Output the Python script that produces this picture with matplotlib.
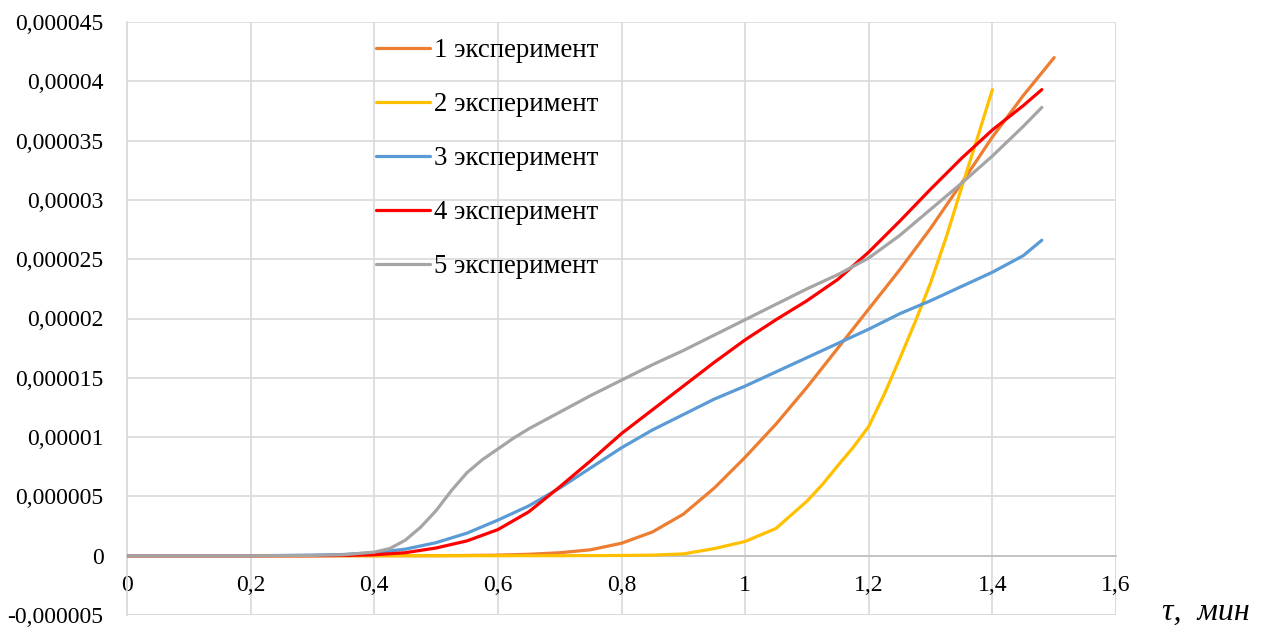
import matplotlib
matplotlib.use("Agg")
import matplotlib.pyplot as plt

plt.rcParams['font.family'] = ['Liberation Serif', 'DejaVu Serif']

# time, min  /  values in units of 1e-6
x1 = [0.0, 0.1, 0.2, 0.3, 0.4, 0.5, 0.55, 0.6, 0.65, 0.7, 0.75, 0.8, 0.85, 0.9, 0.95,
      1.0, 1.05, 1.1, 1.15, 1.2, 1.25, 1.3, 1.35, 1.4, 1.45, 1.5]
exp1 = [0, 0, 0, 0, 0, 0, 0.02, 0.05, 0.12, 0.25, 0.5, 1.05, 2.0, 3.5, 5.7,
        8.3, 11.1, 14.2, 17.5, 20.8, 24.1, 27.6, 31.4, 35.3, 38.8, 42.0]

x2 = [0.0, 0.1, 0.2, 0.3, 0.4, 0.5, 0.6, 0.7, 0.8, 0.85, 0.9, 0.95, 1.0, 1.05, 1.1,
      1.125, 1.15, 1.175, 1.2, 1.225, 1.25, 1.275, 1.3, 1.325, 1.35, 1.375, 1.4]
exp2 = [0, 0, 0, 0, 0, 0, 0, 0, 0.02, 0.05, 0.15, 0.6, 1.2, 2.3, 4.6,
        6.0, 7.6, 9.15, 10.9, 13.6, 16.6, 19.7, 23.0, 26.8, 31.0, 35.1, 39.3]

x3 = [0.0, 0.1, 0.2, 0.25, 0.3, 0.35, 0.4, 0.45, 0.5, 0.55, 0.6, 0.65, 0.7, 0.75, 0.8,
      0.85, 0.9, 0.95, 1.0, 1.05, 1.1, 1.15, 1.2, 1.25, 1.3, 1.35, 1.4, 1.45, 1.48]
exp3 = [0, 0, 0, 0.02, 0.05, 0.1, 0.25, 0.55, 1.1, 1.9, 3.0, 4.2, 5.7, 7.4, 9.1,
        10.6, 11.9, 13.2, 14.3, 15.5, 16.7, 17.9, 19.1, 20.4, 21.5, 22.7, 23.9, 25.3, 26.6]

x4 = [0.0, 0.1, 0.2, 0.3, 0.35, 0.4, 0.45, 0.5, 0.55, 0.6, 0.65, 0.7, 0.75, 0.8, 0.85,
      0.9, 0.95, 1.0, 1.05, 1.1, 1.15, 1.2, 1.25, 1.3, 1.35, 1.4, 1.45, 1.48]
exp4 = [0, 0, 0, 0, 0.02, 0.08, 0.25, 0.65, 1.25, 2.2, 3.7, 5.8, 8.0, 10.3, 12.3,
        14.3, 16.3, 18.2, 19.9, 21.5, 23.3, 25.6, 28.2, 30.9, 33.5, 35.9, 37.95, 39.3]

x5 = [0.0, 0.1, 0.2, 0.3, 0.35, 0.4, 0.425, 0.45, 0.475, 0.5, 0.525, 0.55, 0.575, 0.6,
      0.625, 0.65, 0.7, 0.75, 0.8, 0.85, 0.9, 0.95, 1.0, 1.05, 1.1, 1.15, 1.2, 1.25,
      1.3, 1.35, 1.4, 1.45, 1.48]
exp5 = [0, 0, 0, 0.02, 0.08, 0.3, 0.6, 1.3, 2.4, 3.8, 5.5, 7.0, 8.1, 9.0,
        9.9, 10.7, 12.1, 13.5, 14.8, 16.1, 17.3, 18.6, 19.9, 21.2, 22.5, 23.7, 25.1, 27.0,
        29.2, 31.4, 33.7, 36.2, 37.8]

labels = ["1 эксперимент", "2 эксперимент", "3 эксперимент", "4 эксперимент", "5 эксперимент"]
colors = ["#ED7D31", "#FFC000", "#5B9BD5", "#FF0000", "#A5A5A5"]

yticks = [-5, 0, 5, 10, 15, 20, 25, 30, 35, 40, 45]
ytick_labels = ["-0,000005", "0", "0,000005", "0,00001", "0,000015", "0,00002",
                "0,000025", "0,00003", "0,000035", "0,00004", "0,000045"]
xticks = [0, 0.2, 0.4, 0.6, 0.8, 1.0, 1.2, 1.4, 1.6]
xtick_labels = ["0", "0,2", "0,4", "0,6", "0,8", "1", "1,2", "1,4", "1,6"]

fig = plt.figure(figsize=(12.69, 6.28), dpi=100)
ax = fig.add_axes([127/1269, 13/628, (1116-127)/1269, (615-22)/628])

series = [(x1, exp1), (x2, exp2), (x3, exp3), (x4, exp4), (x5, exp5)]
for (xs, ys), lab, c in zip(series, labels, colors):
    ax.plot(xs, ys, color=c, lw=2.3, label=lab, solid_capstyle='round',
            solid_joinstyle='round', zorder=3)

ax.set_xlim(0, 1.6)
ax.set_ylim(-5, 45)
ax.set_yticks(yticks)
ax.set_yticklabels(ytick_labels)
ax.set_xticks(xticks)
ax.set_xticklabels(xtick_labels)
ax.grid(True, color="#d9d9d9", lw=1.2, zorder=0)
ax.set_axisbelow(True)

for s in ['top', 'right']:
    ax.spines[s].set_visible(False)
ax.spines['left'].set_color('#d9d9d9')
ax.spines['left'].set_linewidth(1.2)
ax.spines['bottom'].set_position(('data', 0))
ax.spines['bottom'].set_color('#bfbfbf')
ax.spines['bottom'].set_linewidth(1.2)
ax.tick_params(axis='both', length=0, labelsize=17)
ax.tick_params(axis='y', pad=17)
ax.tick_params(axis='x', pad=14)
ax.axhline(-5, color="#d9d9d9", lw=1.2, zorder=0)
ax.axvline(1.6, color="#d9d9d9", lw=1.2, zorder=0)

leg = ax.legend(loc='upper left', bbox_to_anchor=(363/1269, 1 - 25/628),
                bbox_transform=fig.transFigure, frameon=False, fontsize=19.3,
                handlelength=2.0, handletextpad=0.15, labelspacing=1.08, borderpad=0)

fig.text(1250/1269, 1 - 612/628, "τ,  мин", fontsize=23, style='italic',
         ha='right', va='center')

fig.savefig("out.png", dpi=100)
